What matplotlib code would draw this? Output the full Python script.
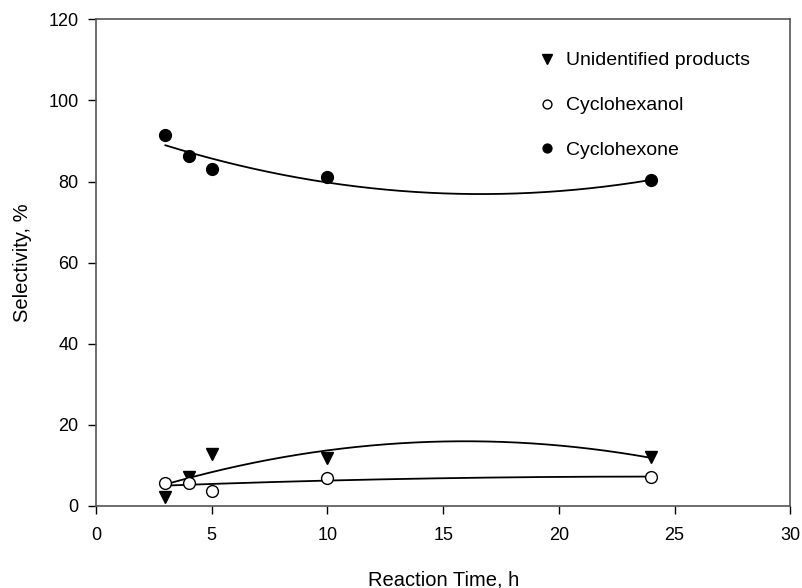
import numpy as np
import matplotlib.pyplot as plt

# ==========================================================
# DONNÉES
# ==========================================================

time_h = np.array([3, 4, 5, 10, 24])

cyclohexone = np.array([91.5, 86.2, 83.0, 81.0, 80.3])
cyclohexanol = np.array([5.7, 5.7, 3.8, 6.8, 7.2])
unidentified = np.array([2.2, 7.1, 12.9, 11.9, 12.0])

# ==========================================================
# STYLE
# ==========================================================

plt.rcParams['font.family'] = ['Liberation Sans', 'DejaVu Sans']

fig = plt.figure(figsize=(8.03, 5.88), dpi=100)
ax = fig.add_axes([0.1196, 0.1395, 0.8646, 0.8277])

# Régressions quadratiques
t_fit = np.linspace(time_h.min(), time_h.max(), 200)
for y in (cyclohexone, cyclohexanol, unidentified):
    coef = np.polyfit(time_h, y, 2)
    ax.plot(t_fit, np.polyval(coef, t_fit), color='black', linewidth=1.3, zorder=2)

# Points
ax.plot(time_h, unidentified, 'v', color='black', markersize=9, zorder=3,
        label='Unidentified products')
ax.plot(time_h, cyclohexanol, 'o', markerfacecolor='white', markeredgecolor='black',
        markeredgewidth=1.0, markersize=8.5, zorder=3, label='Cyclohexanol')
ax.plot(time_h, cyclohexone, 'o', color='black', markersize=8.5, zorder=3,
        label='Cyclohexone')

# ==========================================================
# AXES
# ==========================================================

ax.set_xlim(0, 30)
ax.set_ylim(0, 120)
ax.set_xticks(np.arange(0, 31, 5))
ax.set_yticks(np.arange(0, 121, 20))

ax.tick_params(direction='out', length=6, width=1, labelsize=13, colors='black')
ax.tick_params(axis='x', pad=9)
ax.tick_params(axis='y', pad=6.5)
for s in ax.spines.values():
    s.set_color('#555555')
    s.set_linewidth(1.2)

ax.set_xlabel('Reaction Time, h', fontsize=14.5, labelpad=19)
ax.set_ylabel('Selectivity, %', fontsize=14.5, labelpad=12)

ax.legend(loc='upper right', bbox_to_anchor=(0.967, 0.969), frameon=False,
          fontsize=14, labelspacing=1.4, handletextpad=0.35, markerscale=0.75,
          handlelength=1.2)

fig.savefig('out.png', dpi=100)
